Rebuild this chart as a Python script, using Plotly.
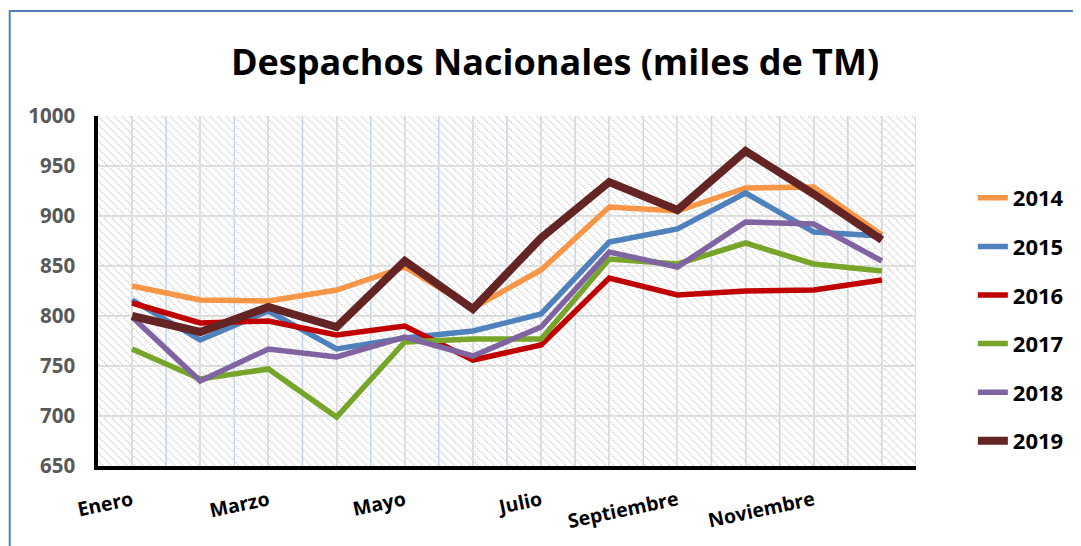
import base64
import plotly.graph_objects as go

months = ["Enero", "Febrero", "Marzo", "Abril", "Mayo", "Junio", "Julio",
          "Agosto", "Septiembre", "Octubre", "Noviembre", "Diciembre"]
label_months = ["Enero", "Marzo", "Mayo", "Julio", "Septiembre", "Noviembre"]

years = ["2014", "2015", "2016", "2017", "2018", "2019"]
v2014 = [830, 816, 815, 826, 849, 808, 846, 909, 905, 928, 929, 881]
v2015 = [816, 776, 805, 767, 778, 785, 802, 874, 887, 923, 884, 880]
v2016 = [813, 793, 795, 781, 790, 756, 771, 838, 821, 825, 826, 836]
v2017 = [767, 737, 747, 699, 774, 777, 777, 857, 852, 873, 852, 845]
v2018 = [799, 735, 767, 759, 779, 760, 789, 864, 849, 894, 892, 855]
v2019 = [800, 784, 809, 789, 855, 807, 878, 934, 906, 965, 922, 876]
series = [v2014, v2015, v2016, v2017, v2018, v2019]

colors = ["#F79646", "#4F81BD", "#C00000", "#77A52A", "#8064A2", "#632423"]
widths = [5.5, 5.5, 5.5, 5.5, 5.5, 8]

# page geometry (pixels); the page body has an 8px margin
OFF = 8
W, H = 1081 - OFF, 546 - OFF
L, R, T, B = 98 - OFF, 918 - OFF, 116 - OFF, 466 - OFF
pw, ph = R - L, B - T


def px2x(p):
    return (p - OFF - L) / pw


def px2y(p):
    return (B - (p - OFF)) / ph


# hatched background as inline svg
svg = f'''<svg xmlns="http://www.w3.org/2000/svg" width="{pw}" height="{ph}">
<defs><pattern id="p" width="8" height="8" patternUnits="userSpaceOnUse">
<path d="M0,0 L8,8 M-4,4 L4,12 M4,-4 L12,4" stroke="#c9c9c9" stroke-width="1.4" stroke-dasharray="1.4,1.4"/>
</pattern></defs>
<rect width="100%" height="100%" fill="white"/>
<rect width="100%" height="100%" fill="url(#p)"/>
</svg>'''
src = "data:image/svg+xml;base64," + base64.b64encode(svg.encode()).decode()

fig = go.Figure()
for i, (yr, vals) in enumerate(zip(years, series)):
    fig.add_trace(go.Scatter(
        x=months, y=vals, mode="lines", name=yr, legendgroup=yr,
        line=dict(color=colors[i], width=widths[i]),
    ))

shapes = []
# light blue boundary gridlines between categories
for k in range(len(months)):
    shapes.append(dict(type="line", xref="x", yref="paper",
                       x0=k + 0.5, x1=k + 0.5, y0=0, y1=1,
                       line=dict(color="#c8d6ea", width=1.5), layer="below"))
# outer chart border (blue)
shapes.append(dict(type="rect", xref="paper", yref="paper",
                   x0=px2x(9.5), x1=px2x(1100), y0=px2y(570), y1=px2y(11),
                   line=dict(color="#4F81BD", width=2), fillcolor="rgba(0,0,0,0)"))

ticktext = [m if m in label_months else "" for m in months]

fig.update_layout(
    width=W, height=H, autosize=False,
    margin=dict(l=L, r=W - R, t=T, b=H - B, pad=0),
    paper_bgcolor="white", plot_bgcolor="white",
    font=dict(family="Open Sans", color="black"),
    title=dict(text="Despachos Nacionales (miles de TM)", x=(555 - OFF) / W, xanchor="center",
               y=1 - (62 - OFF) / H, yanchor="middle",
               font=dict(family="Open Sans", size=36, weight="bold", color="black")),
    xaxis=dict(type="category", categoryorder="array", categoryarray=months,
               range=[-0.5, len(months) - 0.5],
               tickmode="array", tickvals=months, ticktext=ticktext,
               tickangle=-12, tickfont=dict(size=19.5, weight="bold", color="black"),
               showgrid=True, gridcolor="#dedede", gridwidth=1.5,
               showline=True, linecolor="black", linewidth=3.5,
               ticks="", ticklabelstandoff=12, fixedrange=True),
    yaxis=dict(range=[650, 1000], dtick=50, tick0=650,
               tickfont=dict(size=20.5, weight="bold", color="#595959"),
               showgrid=True, gridcolor="#dedede", gridwidth=1.5,
               showline=True, linecolor="black", linewidth=3.5,
               ticks="", ticklabelstandoff=15, zeroline=False),
    legend=dict(x=px2x(975), xanchor="left", y=px2y(177), yanchor="top",
                font=dict(size=22, weight="bold", color="black"),
                tracegroupgap=17, bgcolor="rgba(0,0,0,0)"),
    images=[dict(source=src, xref="paper", yref="paper", x=0, y=1,
                 sizex=1, sizey=1, sizing="stretch", layer="below")],
    shapes=shapes,
    showlegend=True,
)

fig.write_html("out.html")
